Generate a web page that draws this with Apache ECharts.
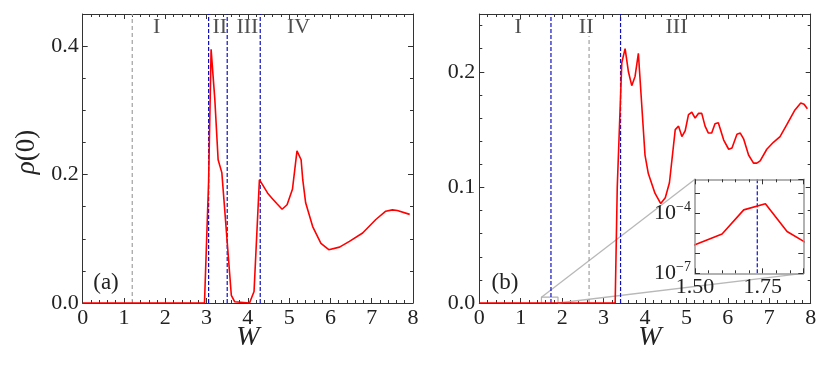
<!DOCTYPE html>
<html><head><meta charset="utf-8">
<script src="https://cdn.jsdelivr.net/npm/echarts@6/dist/echarts.min.js"></script>
<style>html,body{margin:0;padding:0;background:#fff}#c{width:831px;height:376px}</style>
</head><body><div id="c"></div>
<script>
// ---- data ----
const xTicks = [0,1,2,3,4,5,6,7,8];
const leftW   = [0, 2.95, 3.05, 3.11, 3.2, 3.28, 3.37, 3.6, 3.68, 3.72, 4.04, 4.15, 4.28, 4.31, 4.48, 4.6, 4.7, 4.83, 4.95, 5.08, 5.19, 5.29, 5.33, 5.4, 5.57, 5.77, 5.96, 6.22, 6.46, 6.78, 7.1, 7.34, 7.5, 7.62, 7.92];
const leftRho = [0, 0,    0.19, 0.395,0.317,0.223,0.203,0.012,0.002,0,   0,    0.018,0.192,0.195,0.171,0.162,0.155,0.146,0.153,0.177,0.237,0.223,0.192,0.156,0.119,0.093,0.083,0.087,0.096,0.109,0.13, 0.143,0.145,0.144,0.138];
const rightW   = [0, 3.28, 3.33, 3.44, 3.52, 3.6, 3.68, 3.76, 3.84, 4.0, 4.08, 4.24, 4.38, 4.49, 4.59, 4.73, 4.81, 4.89, 4.97, 5.05, 5.13, 5.21, 5.29, 5.37, 5.45, 5.53, 5.61, 5.69, 5.77, 5.9, 6.02, 6.1, 6.22, 6.3, 6.38, 6.5, 6.62, 6.7, 6.78, 6.94, 7.1, 7.26, 7.42, 7.62, 7.76, 7.84, 7.92];
const rightRho = [0, 0,    0.1,  0.208,0.22, 0.2, 0.188,0.196,0.216,0.128,0.112,0.095,0.086,0.091,0.104,0.15, 0.153,0.144,0.149,0.163,0.165,0.16, 0.164,0.164,0.153,0.147,0.147,0.155,0.156,0.141,0.133,0.134,0.146,0.147,0.142,0.128,0.121,0.121,0.123,0.133,0.139,0.144,0.154,0.167,0.173,0.172,0.168];
const insetW   = [1.42, 1.6, 1.68, 1.76, 1.84, 1.92];
const insetRho = [1.0e-6, 9.3e-6, 1.48e-4, 3.0e-4, 1.23e-5, 2.8e-6];
const leftBlue = [3.05, 3.5, 4.3];
const leftGray = [1.2];
const rightBlue = [1.73, 3.41];
const rightGray = [2.65];
const rightGrayTop = 0.231;
const insetBlue = [1.73];
const leftRegions = ['I','II','III','IV'];
const leftRegionX = [1.79, 3.32, 3.99, 5.23];
const rightRegions = ['I','II','III'];
const rightRegionX = [0.94, 2.58, 4.76];
const zoomBoxW = [1.5, 1.9];
const zoomBoxRho = [0, 0.005];

// ---- styles ----
const FONT = 'Liberation Serif';
const FRAME = '#333';
const RED = '#ff0000';
const BLUE = '#1010c0';
const GRAY = '#a0a0a0';

function axisBase(min, max, interval, split, showLabel, pos, fmt, color) {
  return {
    type: 'value', min: min, max: max, interval: interval, position: pos,
    axisLine: {show: true, onZero: false, lineStyle: {color: color || FRAME, width: 1}},
    axisTick: {show: true, inside: true, length: 5, lineStyle: {color: FRAME, width: 1}},
    minorTick: {show: true, splitNumber: split, length: 3, lineStyle: {color: FRAME, width: 1}},
    splitLine: {show: false}, minorSplitLine: {show: false},
    axisLabel: {show: showLabel, fontFamily: FONT, fontSize: 22, color: '#222', margin: 4, formatter: fmt}
  };
}
const x0 = v => String(v);
const y1 = v => v.toFixed(1);

const xAxes = [
  Object.assign(axisBase(0, 8, 1, 5, true, 'bottom', x0), {gridIndex: 0}),
  Object.assign(axisBase(0, 8, 1, 5, false, 'top'), {gridIndex: 0}),
  Object.assign(axisBase(0, 8, 1, 5, true, 'bottom', x0), {gridIndex: 1}),
  Object.assign(axisBase(0, 8, 1, 5, false, 'top'), {gridIndex: 1}),
  Object.assign(axisBase(1.5, 1.9, 0.25, 5, true, 'bottom', v => v.toFixed(2), '#999'), {gridIndex: 2}),
  Object.assign(axisBase(1.5, 1.9, 0.25, 5, false, 'top', null, '#999'), {gridIndex: 2})
];
xAxes[4].axisLabel.margin = 3;
xAxes[4].axisLabel.showMaxLabel = false;
xAxes[4].axisLine.lineStyle.width = 1.5;
xAxes[5].axisLine.lineStyle.width = 1.5;

const logFmt = v => {
  const e = Math.round(Math.log10(v));
  if (Math.abs(Math.log10(v) - e) > 0.01) return '';
  if (e === -4 || e === -7) return '{a|10}{b|\u2212' + (-e) + '}';
  return '';
};
function logAxis(showLabel, pos) {
  return {
    gridIndex: 2, type: 'log', logBase: 10, min: 1e-7, max: 5e-3, position: pos,
    axisLine: {show: true, onZero: false, lineStyle: {color: '#999', width: 1.5}},
    axisTick: {show: true, inside: true, length: 5, lineStyle: {color: FRAME}},
    minorTick: {show: false},
    splitLine: {show: false},
    axisLabel: {show: showLabel, formatter: logFmt, color: '#222', margin: 4, showMaxLabel: false,
      rich: {a: {fontFamily: FONT, fontSize: 22, color: '#222'},
             b: {fontFamily: FONT, fontSize: 14, color: '#222', padding: [0, 0, 12, 0]}}}
  };
}
const yAxes = [
  Object.assign(axisBase(0, 0.45, 0.2, 4, true, 'left', y1), {gridIndex: 0}),
  Object.assign(axisBase(0, 0.45, 0.2, 4, false, 'right'), {gridIndex: 0}),
  Object.assign(axisBase(0, 0.25, 0.1, 5, true, 'left', y1), {gridIndex: 1}),
  Object.assign(axisBase(0, 0.25, 0.1, 5, false, 'right'), {gridIndex: 1}),
  logAxis(true, 'left'),
  logAxis(false, 'right')
];
yAxes[0].axisLabel.showMaxLabel = false;
yAxes[2].axisLabel.showMaxLabel = false;

function zip(a, b) { return a.map((v, i) => [v, b[i]]); }
function vline(x, y0, y1v, color, xi, yi, dash, z) {
  return {type: 'line', xAxisIndex: xi, yAxisIndex: yi, data: [[x, y0], [x, y1v]], symbol: 'none',
    silent: true, animation: false, z: z || 3,
    lineStyle: {color: color, width: 1.2, type: dash || [4, 2]}};
}
function labels(xs, names, y, xi, yi) {
  return {type: 'scatter', xAxisIndex: xi, yAxisIndex: yi, symbolSize: 0, silent: true,
    data: xs.map((x, i) => ({value: [x, y], name: names[i]})),
    label: {show: true, position: 'inside', formatter: p => p.name,
      fontFamily: FONT, fontSize: 22, color: '#222'}};
}

const series = [];
leftGray.forEach(x => series.push(vline(x, 0, 0.45, GRAY, 0, 0, [4, 3])));
leftBlue.forEach(x => series.push(vline(x, 0, 0.45, BLUE, 0, 0)));
series.push({type: 'line', xAxisIndex: 0, yAxisIndex: 0, data: zip(leftW, leftRho), symbol: 'none',
  lineStyle: {color: RED, width: 1.6}, z: 4});
series.push(labels(leftRegionX, leftRegions, 0.43, 0, 0));

rightGray.forEach(x => series.push(vline(x, 0, rightGrayTop, GRAY, 2, 2, [4, 3])));
rightBlue.forEach(x => series.push(vline(x, 0, 0.25, BLUE, 2, 2)));
series.push({type: 'line', xAxisIndex: 2, yAxisIndex: 2, data: zip(rightW, rightRho), symbol: 'none',
  lineStyle: {color: RED, width: 1.6}, z: 4});
series.push(labels(rightRegionX, rightRegions, 0.2385, 2, 2));
// zoom box
series.push({type: 'line', xAxisIndex: 2, yAxisIndex: 2, symbol: 'none', silent: true, z: 2,
  data: [[zoomBoxW[0], zoomBoxRho[0]], [zoomBoxW[0], zoomBoxRho[1]], [zoomBoxW[1], zoomBoxRho[1]], [zoomBoxW[1], zoomBoxRho[0]]],
  lineStyle: {color: '#b0b0b0', width: 1.2}});

// inset
insetBlue.forEach(x => series.push(vline(x, 1e-7, 5e-3, BLUE, 4, 4, [4, 2], 10)));
series.push({type: 'line', xAxisIndex: 4, yAxisIndex: 4, data: zip(insetW, insetRho), symbol: 'none',
  lineStyle: {color: RED, width: 1.6}, z: 11, clip: true});

xAxes.forEach((a, i) => { if (i >= 4) a.z = 12; });
yAxes.forEach((a, i) => { if (i >= 4) a.z = 12; });

const chart = echarts.init(document.getElementById('c'), null, {renderer: 'canvas'});
chart.setOption({
  animation: false,
  backgroundColor: '#fff',
  grid: [
    {left: 82.7, top: 14, width: 330.3, height: 289},
    {left: 479.3, top: 14, width: 331.4, height: 289},
    {left: 695, top: 179.3, width: 108.3, height: 94, show: true, backgroundColor: '#fff', borderWidth: 0, z: 5}
  ],
  xAxis: xAxes,
  yAxis: yAxes,
  series: series
});

function px(xi, yi, x, y) {
  return [chart.convertToPixel({xAxisIndex: xi}, x), chart.convertToPixel({yAxisIndex: yi}, y)];
}
const a1 = px(2, 2, zoomBoxW[0], zoomBoxRho[1]);
const b1 = px(4, 4, 1.5, 5e-3);
const a2 = px(2, 2, zoomBoxW[1], zoomBoxRho[0]);
const b2 = px(4, 4, 1.9, 1e-7);
chart.setOption({
  graphic: [
    {type: 'line', shape: {x1: a1[0], y1: a1[1], x2: b1[0], y2: b1[1]}, style: {stroke: '#b8b8b8', lineWidth: 1.3}, z: 1, silent: true},
    {type: 'line', shape: {x1: a2[0], y1: a2[1], x2: b2[0], y2: b2[1]}, style: {stroke: '#b8b8b8', lineWidth: 1.3}, z: 1, silent: true},
    {type: 'text', x: 106, y: 283, style: {text: '(a)', fontFamily: FONT, fontSize: 23, fill: '#222', textAlign: 'center', textVerticalAlign: 'middle'}},
    {type: 'text', x: 505, y: 283, style: {text: '(b)', fontFamily: FONT, fontSize: 23, fill: '#222', textAlign: 'center', textVerticalAlign: 'middle'}},
    {type: 'text', x: 248, y: 338, style: {text: 'W', fontFamily: FONT, fontStyle: 'italic', fontSize: 28, fill: '#222', textAlign: 'center', textVerticalAlign: 'middle'}},
    {type: 'text', x: 650, y: 338, style: {text: 'W', fontFamily: FONT, fontStyle: 'italic', fontSize: 28, fill: '#222', textAlign: 'center', textVerticalAlign: 'middle'}},
    {type: 'text', x: 27, y: 152, rotation: Math.PI / 2,
      style: {text: '{i|\u03c1}(0)', fontFamily: FONT, fontSize: 27, fill: '#222', textAlign: 'center', textVerticalAlign: 'middle',
        rich: {i: {fontFamily: FONT, fontStyle: 'italic', fontSize: 27, fill: '#222'}}}}
  ]
});
</script></body></html>
